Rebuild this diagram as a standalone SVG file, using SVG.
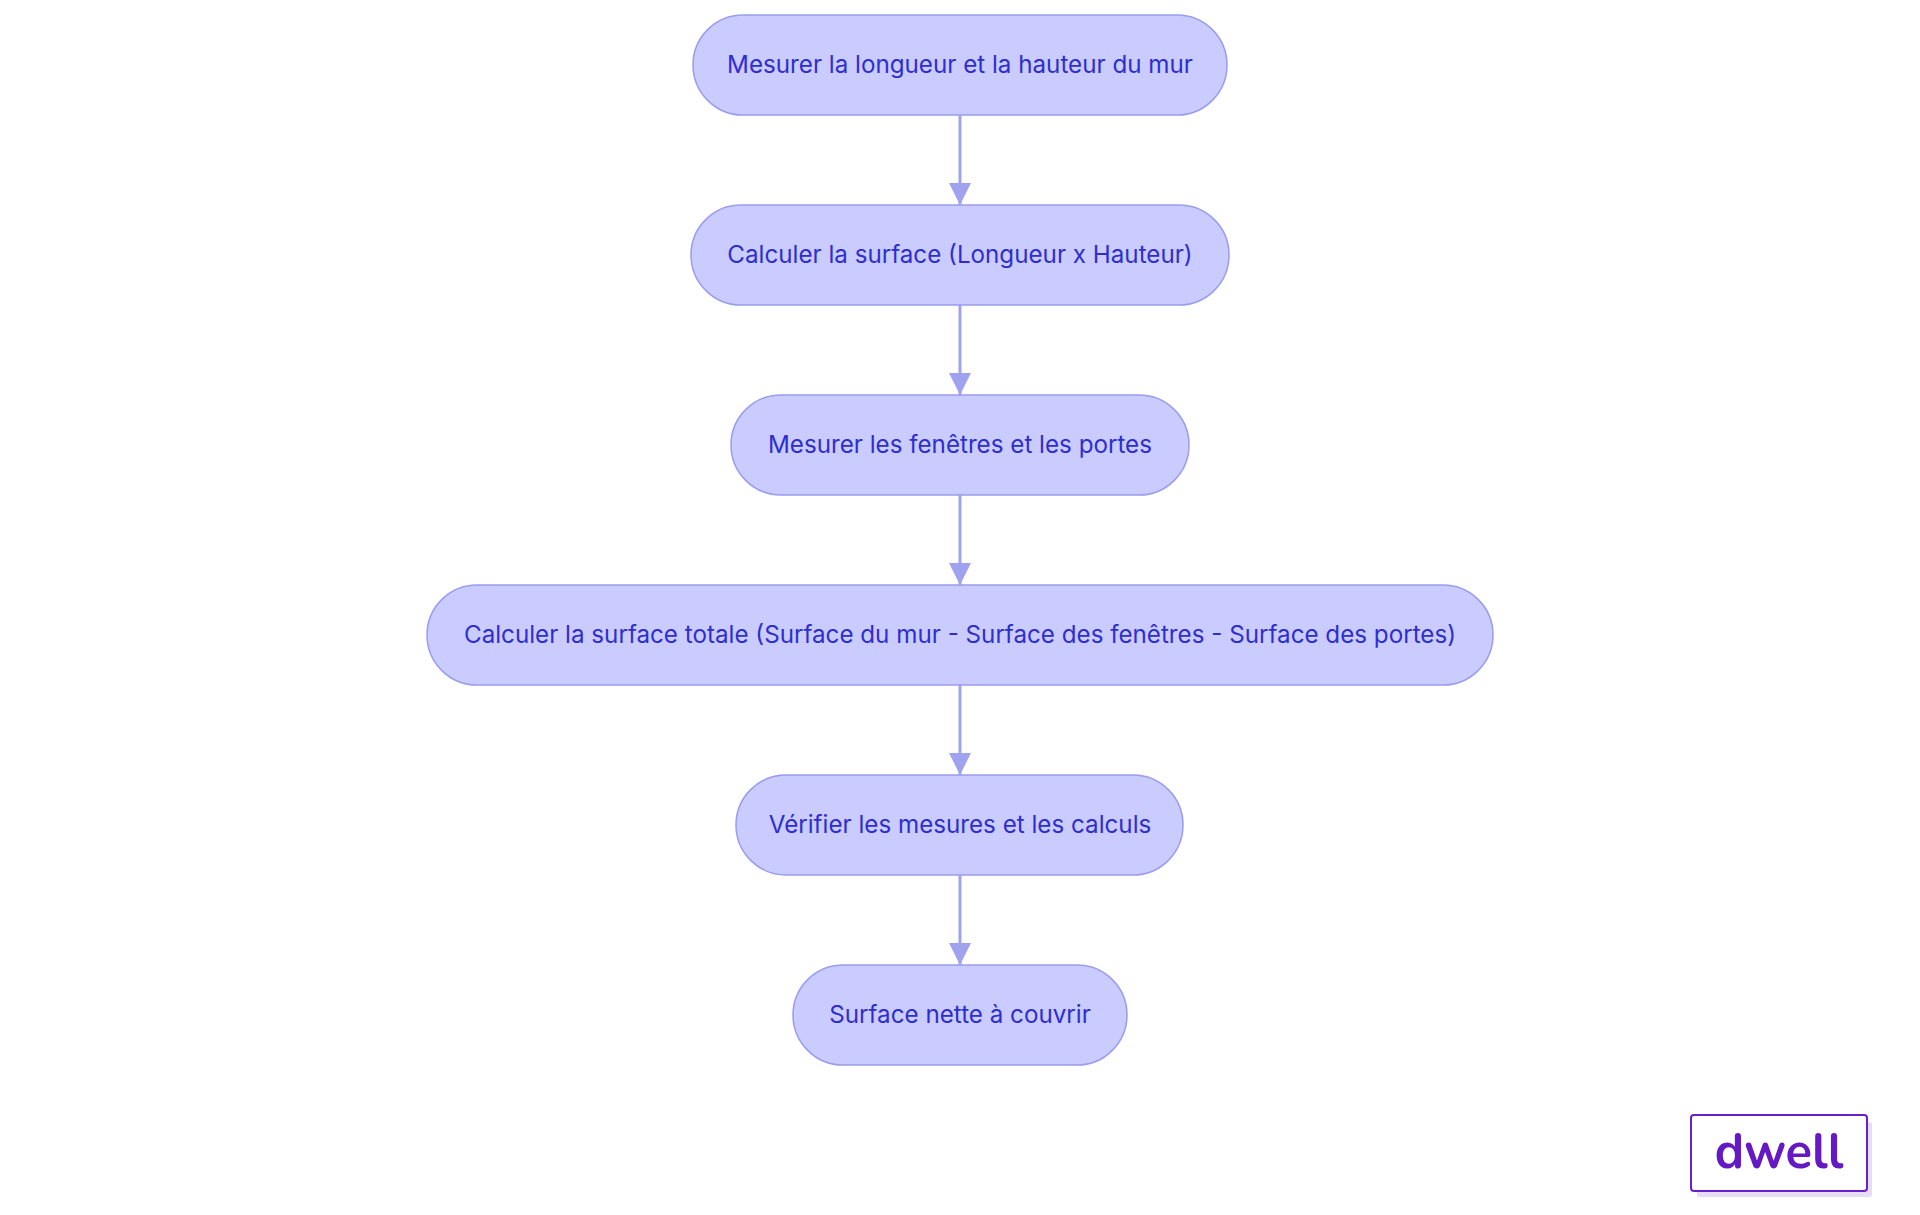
<svg xmlns="http://www.w3.org/2000/svg" width="1920" height="1215" viewBox="0 0 1920 1215">
<style>
.n rect{fill:#cacbff;stroke:#9a9cf0;stroke-width:1.5}
.n text{font-family:Inter,"Noto Sans",sans-serif;font-size:24.2px;fill:#2e2ecf;text-anchor:middle;dominant-baseline:central}
.c line{stroke:#a0a2f0;stroke-width:3}
</style>
<defs><marker id="b" viewBox="0 0 20 20" refX="20" refY="10" markerWidth="22" markerHeight="22" markerUnits="userSpaceOnUse" orient="auto"><path d="M0,0L20,10L0,20z" fill="#a0a2f0"/></marker></defs>
<rect width="1920" height="1215" fill="#fff"/>
<g class="c">
<line x1="960" y1="115" x2="960" y2="205" marker-end="url(#b)"/>
<line x1="960" y1="305" x2="960" y2="395" marker-end="url(#b)"/>
<line x1="960" y1="495" x2="960" y2="585" marker-end="url(#b)"/>
<line x1="960" y1="685" x2="960" y2="775" marker-end="url(#b)"/>
<line x1="960" y1="875" x2="960" y2="965" marker-end="url(#b)"/>
</g>
<g id="n1" class="n"><rect x="693" y="15" width="534" height="100" rx="50"/><text x="960" y="64">Mesurer la longueur et la hauteur du mur</text></g>
<g id="n2" class="n"><rect x="691" y="205" width="538" height="100" rx="50"/><text x="960" y="254">Calculer la surface (Longueur x Hauteur)</text></g>
<g id="n3" class="n"><rect x="731" y="395" width="458" height="100" rx="50"/><text x="960" y="444">Mesurer les fenêtres et les portes</text></g>
<g id="n4" class="n"><rect x="427" y="585" width="1066" height="100" rx="50"/><text x="960" y="634">Calculer la surface totale (Surface du mur - Surface des fenêtres - Surface des portes)</text></g>
<g id="n5" class="n"><rect x="736" y="775" width="447" height="100" rx="50"/><text x="960" y="824">Vérifier les mesures et les calculs</text></g>
<g id="n6" class="n"><rect x="793" y="965" width="334" height="100" rx="50"/><text x="960" y="1014">Surface nette à couvrir</text></g>
<g id="logo">
<rect x="1697" y="1122" width="175" height="75" rx="3" fill="#e6dcf8"/>
<rect x="1691" y="1115" width="176" height="76" rx="3" fill="#fff" stroke="#6a1fc8" stroke-width="2"/>
<text x="1779" y="1168" font-family="Nunito,Lato,'Noto Sans',sans-serif" font-weight="bold" font-size="49" fill="#6419c4" text-anchor="middle">dwell</text>
</g>
</svg>
